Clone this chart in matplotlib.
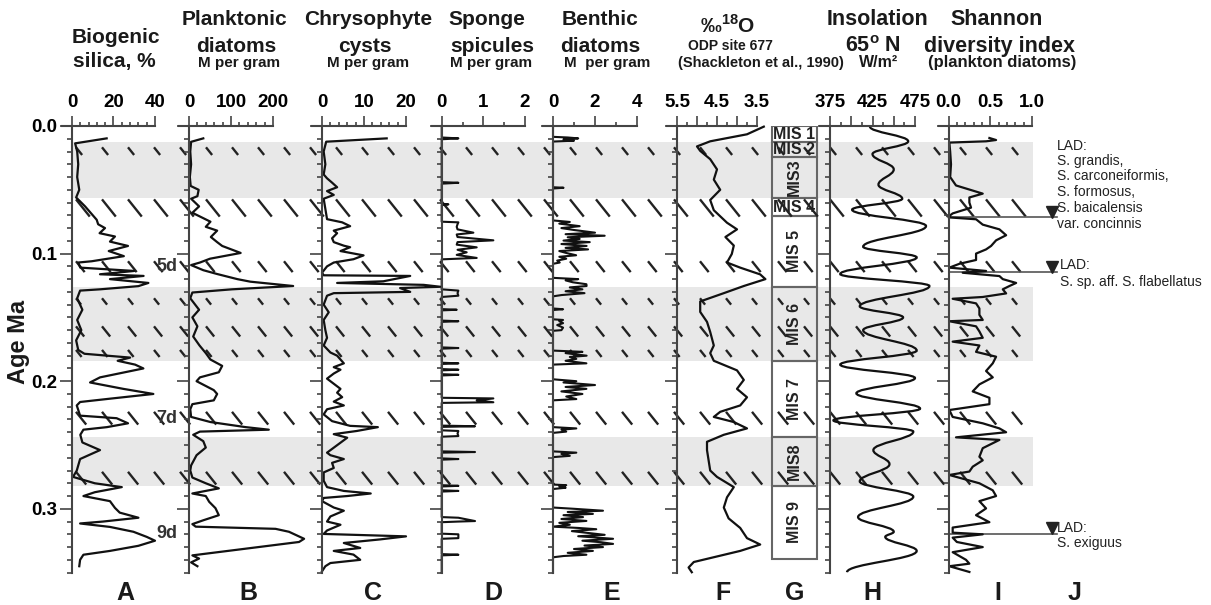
import numpy as np
import matplotlib.pyplot as plt
from matplotlib.path import Path
from matplotlib.patches import PathPatch, Rectangle
from matplotlib.collections import LineCollection

plt.rcParams['font.family'] = ['Liberation Sans', 'DejaVu Sans']
plt.rcParams['font.weight'] = 'bold'
plt.rcParams['mathtext.fontset'] = 'custom'
plt.rcParams['mathtext.rm'] = 'Liberation Sans'
plt.rcParams['mathtext.bf'] = 'Liberation Sans:bold'

# ---------------- data (age in Ma) ----------------
silica_age = [0.0097, 0.0136, 0.020, 0.030, 0.040, 0.050, 0.056, 0.063, 0.0735, 0.077, 0.080, 0.084,
              0.0866, 0.0906, 0.094, 0.098, 0.102, 0.106, 0.107, 0.111, 0.1136, 0.1162, 0.1175, 0.120,
              0.123, 0.1255, 0.128, 0.129, 0.135, 0.144, 0.152, 0.160, 0.168, 0.1755, 0.1785, 0.1815,
              0.184, 0.187, 0.190, 0.197, 0.201, 0.206, 0.210, 0.2137, 0.2163, 0.219, 0.227, 0.229,
              0.233, 0.236, 0.238, 0.242, 0.248, 0.254, 0.258, 0.261, 0.270, 0.275, 0.280, 0.283,
              0.287, 0.290, 0.294, 0.2993, 0.303, 0.307, 0.310, 0.3115, 0.3142, 0.318, 0.322, 0.325,
              0.329, 0.333, 0.336, 0.340, 0.345]
silica_val = [16.7, 1.5, 2.5, 3, 2.5, 3.5, 2, 6.3, 11.9, 12.6, 15.9, 13.3,
              20.7, 18.3, 27, 17.7, 25, 9.5, 3, 4, 30, 13.5, 34.5, 18.3,
              36.8, 32, 13.5, 3.9, 2.5, 5, 2.5, 4.5, 2, 3, 6, 28,
              22, 30.4, 34.4, 13.5, 8.7, 24.7, 39.2, 18.3, 3.9, 2.3, 3.9, 21.5,
              27, 16.8, 5.5, 4, 5, 13.5, 8, 3.9, 2.3, 0.5, 11, 24,
              11, 5.5, 18.3, 20.7, 23, 32, 14.9, 3.9, 18.3, 29.6, 36, 40,
              32, 18.3, 5.5, 3.9, 3.5]

plank_age = [0.0097, 0.0124, 0.020, 0.030, 0.040, 0.047, 0.050, 0.055, 0.057, 0.063, 0.068, 0.075,
             0.079, 0.082, 0.087, 0.091, 0.094, 0.0995, 0.104, 0.107, 0.109, 0.113, 0.116, 0.120,
             0.122, 0.1254, 0.128, 0.1305, 0.135, 0.144, 0.150, 0.157, 0.165, 0.172, 0.178, 0.183,
             0.188, 0.193, 0.197, 0.200, 0.207, 0.210, 0.215, 0.218, 0.222, 0.228, 0.232, 0.236,
             0.238, 0.2395, 0.242, 0.247, 0.252, 0.258, 0.266, 0.270, 0.2755, 0.280, 0.284, 0.288,
             0.290, 0.2945, 0.2995, 0.305, 0.309, 0.312, 0.314, 0.3157, 0.318, 0.3235, 0.326, 0.3365,
             0.339, 0.342, 0.345]
plank_val = [34, 5, 3, 5, 2, 4, 23, 20, 5, 24, 8, 51,
             40, 67, 52, 67, 79, 123, 50, 26, 5, 34, 67, 115,
             146, 248, 102, 8, 3, 24, 8, 20, 10, 25, 40, 51,
             79, 71, 26, 18, 59, 67, 59, 8, 3, 5, 51, 135,
             190, 26, 10, 34, 40, 18, 5, 3, 8, 40, 71, 8,
             40, 48, 63, 71, 34, 8, 16, 206, 238, 274, 262, 8,
             24, 5, 20]

chryso_age = [0.0097, 0.0123, 0.020, 0.030, 0.038, 0.041, 0.0444, 0.048, 0.051, 0.054, 0.057, 0.065,
              0.073, 0.0755, 0.0785, 0.082, 0.084, 0.088, 0.091, 0.0938, 0.095, 0.098, 0.1014, 0.1044,
              0.107, 0.110, 0.115, 0.117, 0.1175, 0.1217, 0.123, 0.1245, 0.126, 0.127, 0.130, 0.131,
              0.133, 0.140, 0.146, 0.152, 0.160, 0.166, 0.172, 0.1775, 0.180, 0.186, 0.189, 0.191,
              0.194, 0.198, 0.206, 0.209, 0.2125, 0.216, 0.219, 0.222, 0.226, 0.2313, 0.235, 0.236,
              0.239, 0.2415, 0.2443, 0.256, 0.258, 0.261, 0.264, 0.268, 0.2715, 0.278, 0.283, 0.286,
              0.288, 0.290, 0.2915, 0.294, 0.299, 0.3015, 0.306, 0.310, 0.3125, 0.317, 0.3197, 0.3216,
              0.324, 0.3268, 0.3307, 0.333, 0.3359, 0.340, 0.3425, 0.345, 0.349]
chryso_val = [15.4, 1, 0.4, 0.8, 0.4, 1.2, 2.4, 3.6, 1.2, 2.8, 0.4, 0.8,
              1.2, 4.8, 6.7, 2.8, 3.6, 2.4, 2.8, 5.2, 6.7, 4.4, 9.9, 7.5,
              2.8, 1.2, 0, 0.4, 21, 14.6, 3.6, 24.2, 28.2, 18.6, 21, 2.8,
              1.2, 0.4, 1.6, 0.4, 0.8, 1.2, 0.4, 2, 3.6, 5.2, 2.8, 4.4,
              2.8, 1.2, 4.4, 3.6, 4.8, 2.8, 5.2, 1.2, 0.4, 2.4, 6.7, 13.3,
              8.3, 2.8, 6, 1.2, 2, 5.2, 2.4, 2.8, 0.4, 0.4, 1.2, 5.2,
              11.6, 6, 0.4, 0, 2.8, 5.2, 2, 1.2, 4.4, 1.2, 0.4, 20,
              13.8, 5.2, 9.1, 2.8, 7.5, 9.1, 2, 0.8, 0]

sponge_age = [0.000, 0.0090, 0.0097, 0.0104, 0.0440, 0.0445, 0.0452, 0.0610, 0.0614, 0.0620,
              0.0750, 0.0755, 0.0770, 0.0790, 0.0810, 0.0836, 0.0850, 0.0870, 0.0896, 0.0910,
              0.0930, 0.0951, 0.0970, 0.0990, 0.1010, 0.1034, 0.1045, 0.1280, 0.1290, 0.1310,
              0.1330, 0.1340, 0.1435, 0.1440, 0.1445, 0.1525, 0.1530, 0.1535, 0.1735, 0.1740,
              0.1745, 0.1855, 0.1860, 0.1865, 0.1905, 0.1910, 0.1915, 0.1945, 0.1950, 0.1955,
              0.2130, 0.2135, 0.2150, 0.2165, 0.2170, 0.2348, 0.2353, 0.2358, 0.2385, 0.2390,
              0.2410, 0.2430, 0.2435, 0.2550, 0.2555, 0.2560, 0.2605, 0.2610, 0.2615, 0.2815,
              0.2820, 0.2825, 0.2855, 0.2860, 0.2865, 0.3065, 0.3070, 0.3096, 0.3100, 0.3105,
              0.3195, 0.3200, 0.3230, 0.3235, 0.3355, 0.3360, 0.3365, 0.3500]
sponge_val = [0, 0, 0.4, 0, 0, 0.4, 0, 0, 0.16, 0,
              0, 0.4, 0.38, 0.36, 0.38, 0.76, 0.36, 0.38, 1.24, 0.38,
              0.36, 0.84, 0.38, 0.6, 0.36, 0.84, 0, 0, 0.4, 0.38,
              0.4, 0, 0, 0.36, 0, 0, 0.4, 0, 0, 0.4,
              0, 0, 0.4, 0, 0, 0.4, 0, 0, 0.4, 0,
              0, 1.24, 0.84, 1.24, 0, 0, 0.8, 0, 0, 0.4,
              0.38, 0.4, 0, 0, 0.8, 0, 0, 0.4, 0, 0,
              0.4, 0, 0, 0.4, 0, 0, 0.4, 0.8, 0.4, 0,
              0, 0.4, 0.4, 0, 0, 0.4, 0, 0]

benthic_age = [0.0000, 0.0085, 0.0090, 0.0097, 0.0105, 0.0115, 0.0122, 0.0480, 0.0484, 0.0490,
               0.0740, 0.0752, 0.0765, 0.0785, 0.0800, 0.0815, 0.0836, 0.0848, 0.0860, 0.0872,
               0.0885, 0.0898, 0.0910, 0.0925, 0.0940, 0.0955, 0.0967, 0.0980, 0.0995, 0.1013,
               0.1025, 0.1040, 0.1055, 0.1070, 0.1080, 0.1190, 0.1200, 0.1210, 0.1225, 0.1240,
               0.1254, 0.1265, 0.1280, 0.1295, 0.1310, 0.1325, 0.1335, 0.1430, 0.1436, 0.1442,
               0.1515, 0.1520, 0.1530, 0.1545, 0.1560, 0.1580, 0.1600, 0.1605, 0.1760, 0.1770,
               0.1780, 0.1800, 0.1810, 0.1825, 0.1840, 0.1860, 0.1870, 0.1985, 0.2000, 0.2010,
               0.2030, 0.2045, 0.2060, 0.2080, 0.2100, 0.2120, 0.2140, 0.2150, 0.2360, 0.2370,
               0.2380, 0.2395, 0.2405, 0.2550, 0.2560, 0.2570, 0.2585, 0.2595, 0.2810, 0.2815,
               0.2825, 0.2835, 0.2845, 0.2990, 0.3000, 0.3015, 0.3025, 0.3040, 0.3050, 0.3065,
               0.3080, 0.3095, 0.3110, 0.3125, 0.3140, 0.3150, 0.3160, 0.3175, 0.3190, 0.3204,
               0.3215, 0.3235, 0.3250, 0.3262, 0.3275, 0.3288, 0.3300, 0.3315, 0.3330, 0.3345,
               0.3360, 0.3370, 0.3380, 0.3500]
benthic_val = [0, 0, 0.7, 1.2, 0.5, 1.0, 0, 0, 0.5, 0,
               0, 0.8, 0.3, 1.27, 0.4, 1.0, 2.0, 0.6, 2.46, 0.7,
               1.27, 0.5, 1.75, 0.4, 1.6, 0.6, 1.67, 0.3, 0.63, 1.1,
               0.3, 0.63, 0.2, 0.32, 0, 0, 1.2, 0.6, 0.95, 1.59,
               1.6, 0.8, 1.4, 0.6, 1.5, 0.4, 0, 0, 0.48, 0,
               0, 0.48, 0.3, 0.48, 0.2, 0.48, 0.4, 0, 0, 1.4,
               0.6, 1.6, 0.8, 1.11, 0.6, 1.59, 0, 0, 1.11, 0.5,
               2.0, 0.6, 1.59, 0.4, 1.4, 0.63, 1.11, 0, 0, 1.11,
               0.4, 0.63, 0, 0, 1.11, 0.4, 0.8, 0, 0, 0.63,
               0.3, 0.6, 0, 0, 1.0, 2.38, 0.7, 1.9, 0.5, 1.43,
               0.4, 1.59, 0.3, 0.8, 0, 1.2, 2.06, 0.9, 1.7, 2.46,
               1.2, 2.86, 1.4, 2.3, 2.86, 1.5, 2.38, 1.0, 1.9, 0.7,
               1.59, 0.5, 0, 0]

d18o_age = [0.0005, 0.0065, 0.012, 0.016, 0.0195, 0.026, 0.034, 0.042, 0.050, 0.058, 0.066, 0.0758,
            0.081, 0.087, 0.0937, 0.1003, 0.107, 0.111, 0.1163, 0.120, 0.1254, 0.131, 0.1375, 0.1457,
            0.1535, 0.1614, 0.172, 0.178, 0.184, 0.1915, 0.199, 0.206, 0.2126, 0.219, 0.224, 0.228,
            0.232, 0.237, 0.242, 0.2475, 0.254, 0.262, 0.270, 0.275, 0.283, 0.291, 0.299, 0.3075,
            0.315, 0.323, 0.328, 0.333, 0.3417, 0.346, 0.3497]
d18o_val = [3.33, 3.75, 4.67, 5.0, 4.92, 4.67, 4.5, 4.58, 4.42, 4.67, 4.58, 4.25,
            4.0, 4.29, 4.08, 4.13, 4.25, 3.92, 3.42, 3.29, 3.83, 4.33, 4.92, 4.92,
            4.75, 4.67, 4.58, 4.67, 4.58, 4.0, 3.83, 4.0, 3.75, 3.92, 4.42, 4.58,
            4.08, 3.75, 4.33, 4.75, 4.75, 4.71, 4.67, 4.5, 4.08, 4.25, 4.33, 4.21,
            3.92, 3.75, 3.42, 3.92, 5.08, 5.21, 5.13]

# insolation turning points (W/m2)
insol_age = [0.0005, 0.012, 0.022, 0.034, 0.046, 0.057, 0.0656, 0.0784, 0.0946, 0.103, 0.116, 0.1254,
             0.1413, 0.150, 0.160, 0.176, 0.187, 0.1975, 0.2095, 0.2215, 0.2307, 0.2395, 0.254, 0.265,
             0.2785, 0.2905, 0.3065, 0.318, 0.322, 0.333, 0.3497]
insol_val = [422, 467, 425, 450, 432, 460, 401, 488, 414, 477, 387, 492,
             410, 461, 414, 477, 387, 475, 406, 481, 379, 473, 426, 445,
             410, 473, 408, 450, 440, 477, 395]

shannon_age = [0.0094, 0.011, 0.012, 0.013, 0.020, 0.030, 0.040, 0.0466, 0.049, 0.053, 0.056, 0.060,
               0.064, 0.0685, 0.0705, 0.0716, 0.0731, 0.0773, 0.081, 0.0856, 0.0896, 0.094, 0.0967, 0.100,
               0.105, 0.108, 0.111, 0.1136, 0.115, 0.1176, 0.120, 0.123, 0.1254, 0.128, 0.1312, 0.134,
               0.1354, 0.139, 0.143, 0.148, 0.152, 0.153, 0.157, 0.161, 0.166, 0.169, 0.172, 0.177,
               0.1808, 0.186, 0.192, 0.197, 0.2025, 0.208, 0.213, 0.218, 0.2226, 0.228, 0.233, 0.237,
               0.240, 0.244, 0.246, 0.2525, 0.2592, 0.262, 0.267, 0.2708, 0.2735, 0.280, 0.2855, 0.290,
               0.294, 0.2997, 0.305, 0.3105, 0.3147, 0.3187, 0.320, 0.3226, 0.326, 0.330, 0.334, 0.340,
               0.343, 0.345, 0.3495]
shannon_val = [0.49, 0.57, 0.45, 0.01, 0.02, 0.03, 0.02, 0.09, 0.21, 0.41, 0.25, 0.25,
               0.27, 0.05, 0.01, 0.0, 0.33, 0.41, 0.61, 0.69, 0.57, 0.51, 0.45, 0.33,
               0.33, 0.13, 0.01, 0.45, 0.17, 0.61, 0.65, 0.81, 0.73, 0.65, 0.69, 0.41,
               0.05, 0.33, 0.37, 0.37, 0.41, 0.01, 0.33, 0.37, 0.41, 0.05, 0.37, 0.33,
               0.57, 0.53, 0.45, 0.53, 0.37, 0.29, 0.49, 0.49, 0.01, 0.05, 0.41, 0.61,
               0.69, 0.09, 0.61, 0.41, 0.37, 0.41, 0.29, 0.25, 0.01, 0.37, 0.53, 0.57,
               0.37, 0.45, 0.33, 0.49, 0.05, 0.05, 0.41, 0.05, 0.1, 0.41, 0.05, 0.21,
               0.25, 0.01, 0.25]

# marine isotope stages
mis_bounds = [0.0, 0.0128, 0.024, 0.0567, 0.0705, 0.126, 0.184, 0.244, 0.282, 0.339]
mis_labels = ['MIS 1', 'MIS 2', 'MIS3', 'MIS 4', 'MIS 5', 'MIS 6', 'MIS 7', 'MIS8', 'MIS 9']
mis_rot = [0, 0, 90, 0, 90, 90, 90, 90, 90]
glacial_bands = [(0.0128, 0.0567), (0.126, 0.184), (0.244, 0.282)]
hatch_rows = [(0.0167, 0.0227), (0.0575, 0.071), (0.106, 0.1145), (0.135, 0.140),
              (0.157, 0.165), (0.1755, 0.181), (0.224, 0.234), (0.271, 0.281)]
substage_labels = [('5d', 0.110), ('7d', 0.229), ('9d', 0.319)]
lad_ages = [0.0716, 0.1147, 0.3197]
lad_texts = [['LAD:', 'S. grandis,', 'S. carconeiformis,', 'S. formosus,', 'S. baicalensis', 'var. concinnis'],
             ['LAD:', 'S. sp. aff. S. flabellatus'],
             ['LAD:', 'S. exiguus']]

# ---------------- layout (pixels) ----------------
W, H = 1211, 605
TOP, BOT = 126.0, 572.6
AGE_MAX = 0.35
INK = '#111111'
AXC = '#444444'

fig = plt.figure(figsize=(W / 100, H / 100), dpi=100)


def fx(px):
    return px / W


def fy(py):
    return 1 - py / H


def age_px(age):
    return TOP + age / AGE_MAX * (BOT - TOP)


# background axes: x in pixels, y in age
bg = fig.add_axes([0, fy(BOT), 1, fy(TOP) - fy(BOT)], zorder=0)
bg.set_xlim(0, W)
bg.set_ylim(AGE_MAX, 0)
bg.axis('off')

for a0, a1 in glacial_bands:
    bg.fill_between([72, 1033], a0, a1, color='#e8e8e8', lw=0)

segs = []
for a0, a1 in hatch_rows:
    hpx = (a1 - a0) / AGE_MAX * (BOT - TOP)
    for x in np.arange(76, 1020, 26.0):
        segs.append([(x, a0), (x + 0.8 * hpx, a1)])
bg.add_collection(LineCollection(segs, colors='#222222', linewidths=1.7))

# MIS column (G)
for i, lab in enumerate(mis_labels):
    a0, a1 = mis_bounds[i], mis_bounds[i + 1]
    bg.add_patch(Rectangle((771.7, a0), 45, a1 - a0, fill=False, ec='#666666', lw=1.5))
    bg.text(794.2, (a0 + a1) / 2, lab, rotation=mis_rot[i], ha='center', va='center',
            fontsize=11.5, color='#222222')

for lab, a in substage_labels:
    bg.text(167, a, lab, ha='center', va='center', fontsize=13, color='#333333')

# LAD markers (J)
for a, lines in zip(lad_ages, lad_texts):
    bg.plot([949, 1057], [a, a], color='#555555', lw=1.2)
    bg.plot([1051.5], [a - 5.5 / (BOT - TOP) * AGE_MAX], marker='v', ms=8.5, color='#222222')

J_TXT = [(1057, [150, 165, 180.5, 196, 211.7, 228]), (1060, [269.3, 286]), (1057, [531.7, 546.7])]
for (jx, ys), lines in zip(J_TXT, lad_texts):
    for yy, s in zip(ys, lines):
        fig.text(fx(jx), fy(yy), s, ha='left', va='baseline', fontsize=10,
                 fontweight='normal', color='#222222')


def panel(x0, x1, v0, v1, majors, minors, labels, ext=10):
    upp = (v1 - v0) / (x1 - x0)
    left = x0 - ext
    ax = fig.add_axes([fx(left), fy(BOT), (x1 - left) / W, fy(TOP) - fy(BOT)], zorder=2)
    ax.set_xlim(v0 - ext * upp, v1)
    ax.set_ylim(AGE_MAX, 0)
    ax.patch.set_alpha(0)
    for s in ['right', 'bottom']:
        ax.spines[s].set_visible(False)
    ax.spines['left'].set_position(('data', v0))
    for s in ['left', 'top']:
        ax.spines[s].set_color(AXC)
        ax.spines[s].set_linewidth(1.5)
    ax.xaxis.tick_top()
    ax.set_xticks(majors)
    ax.set_xticklabels(labels)
    ax.set_xticks(minors, minor=True)
    ax.set_yticks([0.0, 0.1, 0.2, 0.3])
    ax.set_yticks(np.arange(0, 0.351, 0.01), minor=True)
    ax.set_yticklabels(['0.0', '0.1', '0.2', '0.3'])
    ax.tick_params(axis='x', which='major', length=7, width=1.2, color=AXC, pad=3.5, labelsize=13.5)
    ax.tick_params(axis='x', which='minor', length=3, width=1.2, color=AXC)
    ax.tick_params(axis='y', which='major', length=9, width=1.2, color=AXC, pad=1.5,
                   labelsize=13.5, labelleft=False)
    ax.tick_params(axis='y', which='minor', length=3.5, width=1.2, color=AXC)
    return ax


axA = panel(72, 155, 0, 40, [0, 20, 40], np.arange(0, 41, 4), ['0', '20', '40'])
axA.tick_params(axis='y', labelleft=True)
axA.plot(silica_val, silica_age, color=INK, lw=1.6, clip_on=False)

axB = panel(189, 273, 0, 200, [0, 100, 200], np.arange(0, 201, 20), ['0', '100', '200'])
axB.plot(plank_val, plank_age, color=INK, lw=1.6, clip_on=False)

axC = panel(322, 406, 0, 20, [0, 10, 20], np.arange(0, 21, 2), ['0', '10', '20'])
axC.plot(chryso_val, chryso_age, color=INK, lw=1.6, clip_on=False)

axD = panel(441.7, 525, 0, 2, [0, 1, 2], [0.5, 1.5], ['0', '1', '2'])
axD.plot(sponge_val, sponge_age, color=INK, lw=1.5, clip_on=False)

axE = panel(553, 637, 0, 4, [0, 2, 4], [1, 3], ['0', '2', '4'])
axE.plot(benthic_val, benthic_age, color=INK, lw=1.5, clip_on=False)

axF = panel(677, 757, 5.5, 3.5, [5.5, 5.0, 4.5, 4.0, 3.5], np.arange(3.5, 5.51, 0.25),
            ['5.5', '', '4.5', '', '3.5'])
axF.plot(d18o_val, d18o_age, color=INK, lw=1.6, clip_on=False)

axH = panel(830, 915, 375, 475, [375, 400, 425, 450, 475], np.arange(375, 476, 12.5),
            ['375', '', '425', '', '475'])
verts = [(insol_val[0], insol_age[0])]
codes = [Path.MOVETO]
for i in range(1, len(insol_age)):
    dt = insol_age[i] - insol_age[i - 1]
    verts += [(insol_val[i - 1], insol_age[i - 1] + 0.4 * dt),
              (insol_val[i], insol_age[i] - 0.4 * dt),
              (insol_val[i], insol_age[i])]
    codes += [Path.CURVE4] * 3
axH.add_patch(PathPatch(Path(verts, codes), fill=False, ec=INK, lw=1.6, clip_on=False))

axI = panel(948.5, 1032, 0, 1.0, [0, 0.5, 1.0], np.arange(0, 1.01, 0.1), ['0.0', '0.5', '1.0'])
axI.plot(shannon_val, shannon_age, color=INK, lw=1.6, clip_on=False)

# ---------------- header texts ----------------
titles = [
    (116, 43.3, 'Biogenic', 15), (114, 66.7, 'silica, %', 15),
    (234, 25, 'Planktonic', 15), (236, 51.7, 'diatoms', 15), (239.5, 66.7, 'M per gram', 11),
    (368, 25, 'Chrysophyte', 15), (365, 51.7, 'cysts', 15), (368, 66.7, 'M per gram', 11),
    (487, 25, 'Sponge', 15), (492, 51.7, 'spicules', 15), (491, 66.7, 'M per gram', 11),
    (600, 25, 'Benthic', 15), (600, 51.7, 'diatoms', 15), (607, 66.7, 'M  per gram', 11),
    (728, 33, r'‰$^{\mathbf{18}}$O', 15), (730, 50, 'ODP site 677', 10),
    (761, 67, '(Shackleton et al., 1990)', 10.5),
    (877, 25, 'Insolation', 15.5), (873, 51.7, r'65$^{\mathbf{o}}$ N', 15.5),
    (879, 66.7, 'W/m²', 11.5),
    (997, 25, 'Shannon', 15.5), (1000, 51.7, 'diversity index', 15.5),
    (1002, 66.7, '(plankton diatoms)', 12),
]
for x, y, s, size in titles:
    fig.text(fx(x), fy(y), s, ha='center', va='baseline', fontsize=size, color='#1a1a1a')

fig.text(fx(18), fy(342), 'Age Ma', rotation=90, ha='center', va='center', fontsize=17, color='#1a1a1a')

for x, s in zip([125, 248, 373, 493, 612, 723, 795, 872, 998, 1075], 'ABCDEFGHIJ'):
    fig.text(fx(x), fy(593), s, ha='center', va='center', fontsize=18, color='#1a1a1a')

fig.savefig('out.png', dpi=100)
